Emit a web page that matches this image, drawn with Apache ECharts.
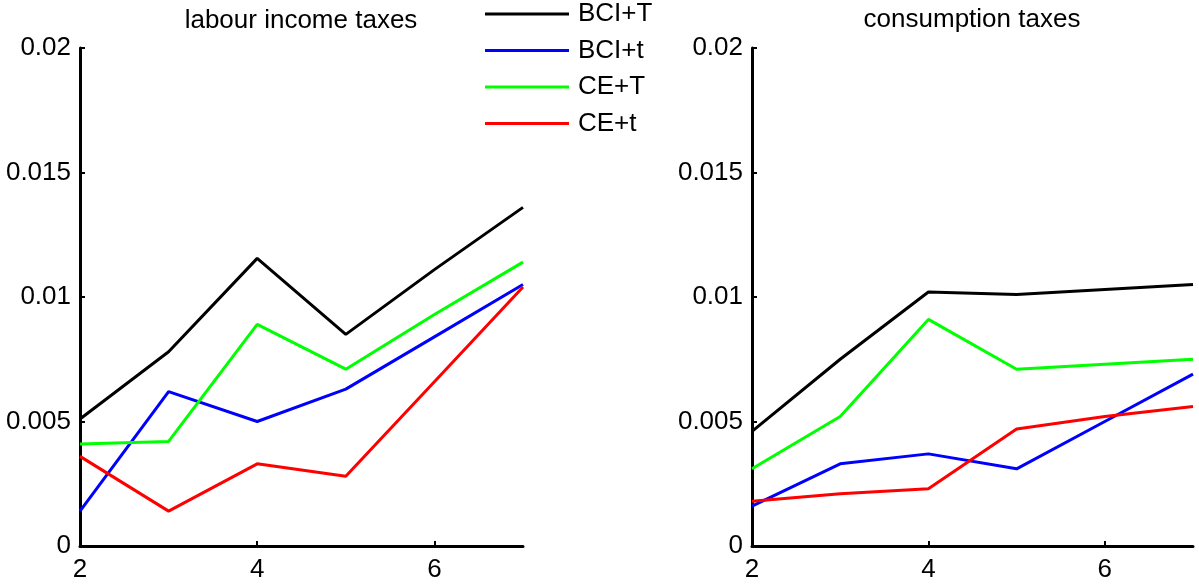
<!DOCTYPE html>
<html>
<head>
<meta charset="utf-8">
<script src="https://cdn.jsdelivr.net/npm/echarts@6/dist/echarts.min.js"></script>
<style>
  html, body { margin: 0; padding: 0; background: #fff; }
  #chart { width: 1199px; height: 584px; }
</style>
</head>
<body>
<div id="chart"></div>
<script>
// Horizon (x) values shared by both panels
const horizons = [2, 3, 4, 5, 6, 7];
const seriesNames = ['BCI+T', 'BCI+t', 'CE+T', 'CE+t'];
const seriesColors = ['#000000', '#0000ff', '#00ff00', '#ff0000'];
const panelTitles = ['labour income taxes', 'consumption taxes'];
const yTicks = [0, 0.005, 0.01, 0.015, 0.02];

// Labour income taxes panel
const labourBCI_T = [0.0051, 0.0078, 0.01155, 0.0085, 0.0111, 0.0136];
const labourBCI_t = [0.0014, 0.0062, 0.0050, 0.0063, 0.0084, 0.0105];
const labourCE_T  = [0.0041, 0.0042, 0.0089, 0.0071, 0.0093, 0.0114];
const labourCE_t  = [0.0036, 0.0014, 0.0033, 0.0028, 0.0066, 0.0104];

// Consumption taxes panel
const consBCI_T = [0.0046, 0.0075, 0.0102, 0.0101, 0.0103, 0.0105];
const consBCI_t = [0.0016, 0.0033, 0.0037, 0.0031, 0.0050, 0.0069];
const consCE_T  = [0.0031, 0.0052, 0.0091, 0.0071, 0.0073, 0.0075];
const consCE_t  = [0.0018, 0.0021, 0.0023, 0.0047, 0.0052, 0.0056];

const panels = [
  [labourBCI_T, labourBCI_t, labourCE_T, labourCE_t],
  [consBCI_T, consBCI_t, consCE_T, consCE_t]
];

const FONT = 'Liberation Sans, Arial, sans-serif';
const FS = 26;
const AXIS_COLOR = '#000';

const chart = echarts.init(document.getElementById('chart'), null, { renderer: 'canvas' });

const grids = [
  { left: 80, right: 676, top: 48, bottom: 38 },
  { left: 752, right: 6, top: 48, bottom: 38 }
];

function xAxisFor(i) {
  return {
    type: 'value', gridIndex: i, min: horizons[0], max: horizons[horizons.length - 1], interval: 2,
    axisLine: { show: true, onZero: false, lineStyle: { color: AXIS_COLOR, width: 3 } },
    axisTick: { show: true, inside: true, length: 5, lineStyle: { color: AXIS_COLOR, width: 2 } },
    axisLabel: { color: '#000', fontSize: FS, fontFamily: FONT, margin: 11, showMaxLabel: false },
    splitLine: { show: false }
  };
}
function yAxisFor(i) {
  return {
    type: 'value', gridIndex: i, min: yTicks[0], max: yTicks[yTicks.length - 1], interval: 0.005,
    axisLine: { show: true, lineStyle: { color: AXIS_COLOR, width: 3 } },
    axisTick: { show: true, inside: true, length: 5, lineStyle: { color: AXIS_COLOR, width: 2 } },
    axisLabel: { color: '#000', fontSize: FS, fontFamily: FONT, margin: 9,
      formatter: v => (v === 0 ? '0' : String(+v.toFixed(3))) },
    splitLine: { show: false }
  };
}

const series = [];
panels.forEach((panel, p) => {
  panel.forEach((vals, k) => {
    series.push({
      name: seriesNames[k],
      type: 'line',
      xAxisIndex: p, yAxisIndex: p,
      data: horizons.map((h, j) => [h, vals[j]]),
      showSymbol: false,
      symbol: 'none',
      lineStyle: { color: seriesColors[k], width: 3 },
      itemStyle: { color: seriesColors[k] },
      animation: false
    });
  });
});

chart.setOption({
  backgroundColor: '#ffffff',
  animation: false,
  title: [
    { text: panelTitles[0], left: 296, top: 3, textAlign: 'center',
      textStyle: { fontSize: FS, fontWeight: 'normal', color: '#000', fontFamily: FONT } },
    { text: panelTitles[1], left: 967, top: 2, textAlign: 'center',
      textStyle: { fontSize: FS, fontWeight: 'normal', color: '#000', fontFamily: FONT } }
  ],
  legend: {
    orient: 'vertical', left: 485, top: 1, padding: 0,
    data: seriesNames,
    icon: 'rect', itemWidth: 84, itemHeight: 3, itemGap: 10.5,
    textStyle: { fontSize: FS, fontFamily: FONT, color: '#000', lineHeight: 26, padding: [0, 0, 0, 4] },
    selectedMode: false
  },
  grid: grids,
  xAxis: [xAxisFor(0), xAxisFor(1)],
  yAxis: [yAxisFor(0), yAxisFor(1)],
  series: series
});
</script>
</body>
</html>
